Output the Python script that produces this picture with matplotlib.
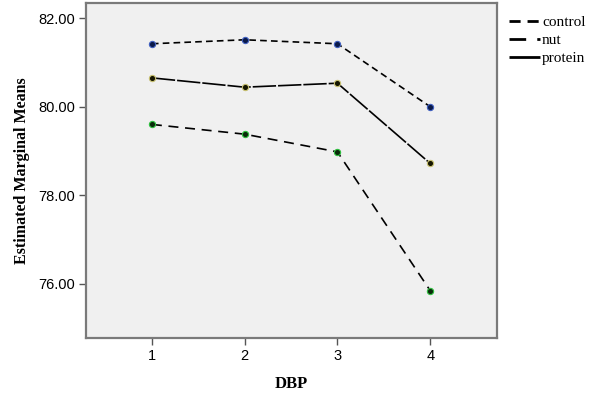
import matplotlib
matplotlib.use("Agg")
import matplotlib.pyplot as plt

# 数据：DBP 各水平下的估计边际均值
dbp = [1, 2, 3, 4]
control = [81.42, 81.51, 81.42, 80.00]
nut = [79.60, 79.38, 78.98, 75.85]
protein = [80.65, 80.44, 80.53, 78.72]
y_ticks = [76.0, 78.0, 80.0, 82.0]

fig = plt.figure(figsize=(5.99, 3.94), dpi=100)
ax = fig.add_axes([0.1436, 0.1421, 0.6861, 0.8503])
ax.set_facecolor("#f0f0f0")

ax.plot(dbp, control, color="black", linewidth=1.2, dashes=(4, 2.5), marker="o",
        markersize=4.5, markerfacecolor="#0a1a4a", markeredgecolor="#4060c0",
        markeredgewidth=0.8, label="control")
ax.plot(dbp, nut, color="black", linewidth=1.2, dashes=(6, 4), marker="o",
        markersize=4.5, markerfacecolor="#0a2a0a", markeredgecolor="#30c040",
        markeredgewidth=0.8, label="nut")
ax.plot(dbp, protein, color="black", linewidth=1.2, dashes=(14, 1.2), marker="o",
        markersize=4.5, markerfacecolor="#151500", markeredgecolor="#c8c070",
        markeredgewidth=0.8, label="protein")

ax.set_xlim(0.29, 4.72)
ax.set_ylim(74.78, 82.34)
ax.set_xticks(dbp)
ax.set_xticklabels([str(v) for v in dbp])
ax.set_yticks(y_ticks)
ax.set_yticklabels([f"{v:.2f}" for v in y_ticks])

for sp in ax.spines.values():
    sp.set_color("#7a7a7a")
    sp.set_linewidth(1.6)

ax.tick_params(axis="both", length=5, width=1.0, color="#555555",
               labelsize=10.5, pad=3)
for lab in ax.get_xticklabels() + ax.get_yticklabels():
    lab.set_family("Liberation Sans")

ax.set_xlabel("DBP", fontfamily="Liberation Serif", fontweight="bold",
              fontsize=12, labelpad=9)
ax.set_ylabel("Estimated Marginal Means", fontfamily="Liberation Serif",
              fontweight="bold", fontsize=11.5, labelpad=6)

leg = ax.legend(loc="upper left", bbox_to_anchor=(1.0, 1.0), frameon=False,
                borderpad=0.3, handlelength=2.0, handletextpad=0.15,
                labelspacing=0.3,
                prop={"family": "Liberation Serif", "size": 11})
for line in leg.get_lines():
    line.set_marker("")
    line.set_linewidth(2.0)

fig.savefig("out.png", dpi=100, facecolor="white")
